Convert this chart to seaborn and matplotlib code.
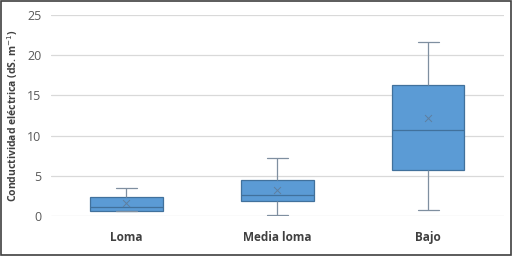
import matplotlib
matplotlib.use("Agg")
import matplotlib.pyplot as plt
import seaborn as sns
import pandas as pd
from matplotlib.patches import Rectangle

categories = ["Loma", "Media loma", "Bajo"]
whisker_low = [0.60, 0.17, 0.71]
q1 = [0.58, 1.83, 5.68]
median = [1.10, 2.57, 10.70]
q3 = [2.36, 4.50, 16.25]
whisker_high = [3.52, 7.20, 21.70]
means = [1.65, 3.23, 12.15]
yticks = [0, 5, 10, 15, 20, 25]

rows = []
for i, c in enumerate(categories):
    for v in (whisker_low[i], q1[i], median[i], q3[i], whisker_high[i]):
        rows.append({"cat": c, "val": v})
df = pd.DataFrame(rows)
mdf = pd.DataFrame({"cat": categories, "val": means})

sns.set_theme(style="white")
plt.rcParams["font.family"] = ["Open Sans", "DejaVu Sans"]

fig = plt.figure(figsize=(5.12, 2.56), dpi=100)
ax = fig.add_axes([0.0996, 0.156, 0.884, 0.785])

box_c = "#5B9BD5"
edge_c = "#41719C"
sns.boxplot(data=df, x="cat", y="val", order=categories, ax=ax, width=0.48,
            color=box_c, saturation=1, linewidth=0.9, whis=10,
            capwidths=0.14,
            boxprops=dict(facecolor=box_c, edgecolor=edge_c),
            medianprops=dict(color=edge_c, linewidth=0.9),
            whiskerprops=dict(color="#7F8FA0", linewidth=0.9),
            capprops=dict(color="#7F8FA0", linewidth=0.9),
            showfliers=False)
sns.scatterplot(data=mdf, x="cat", y="val", ax=ax, marker="x", color="#5F7F9F",
                s=25, linewidth=0.7, zorder=5)

ax.set_ylim(0, 25)
ax.set_xlim(-0.5, 2.5)
ax.set_yticks(yticks)
ax.yaxis.grid(True, color="#D9D9D9", linewidth=0.9)
ax.set_axisbelow(True)
for s in ax.spines.values():
    s.set_visible(False)
ax.tick_params(axis="y", length=0, labelsize=9, labelcolor="#595959", pad=7)
ax.tick_params(axis="x", length=0, labelsize=8.5, labelcolor="#404040", pad=11)
for t in ax.get_xticklabels():
    t.set_fontweight("bold")
ax.set_xlabel("")
ax.set_ylabel("Conductividad eléctrica (dS. m$^{-1}$)", fontsize=7.5,
              fontweight="bold", color="#404040", labelpad=5)

fig.patches.append(Rectangle((0.001, 0.002), 0.997, 0.995, transform=fig.transFigure,
                             fill=False, edgecolor="#404040", linewidth=1.2))
fig.savefig("out.png", dpi=100)
